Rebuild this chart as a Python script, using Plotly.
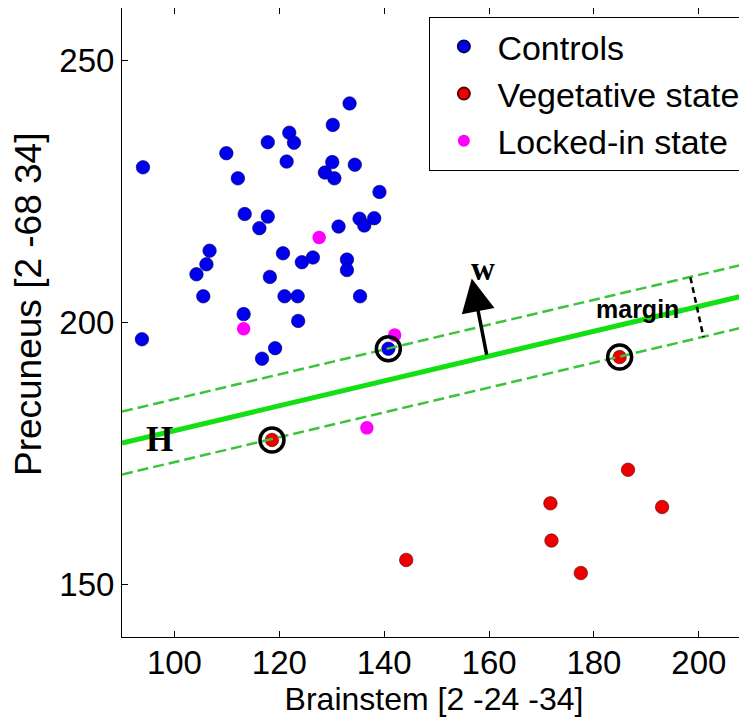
import plotly.graph_objects as go

# ---- data ----
controls_x = [133.4, 130.2, 121.9, 122.8, 117.8, 109.9, 94.0, 121.4, 130.1, 134.4,
              128.7, 130.5, 112.1, 139.1, 113.4, 117.8, 116.2, 135.3, 138.1, 136.2,
              131.3, 106.7, 106.1, 104.2, 120.7, 124.3, 126.4, 132.9, 132.9, 118.2,
              105.5, 121.0, 123.5, 135.4, 113.2, 123.6, 93.8, 119.2, 116.7, 140.8]
controls_y = [241.8, 237.7, 236.2, 234.3, 234.4, 232.3, 229.6, 230.7, 230.6, 230.1,
              228.6, 227.5, 227.5, 224.9, 220.7, 220.2, 218.0, 219.8, 219.9, 218.5,
              218.3, 213.7, 211.1, 209.2, 213.2, 211.5, 212.4, 212.0, 210.0, 208.7,
              205.0, 205.0, 205.0, 205.0, 201.6, 200.3, 196.8, 195.1, 193.1, 195.0]

veg_x = [118.6, 144.2, 184.9, 186.5, 171.7, 193.0, 171.9, 177.5]
veg_y = [177.6, 154.7, 193.4, 171.9, 165.5, 164.8, 158.4, 152.2]

lis_x = [127.6, 113.2, 142.0, 136.7]
lis_y = [216.2, 198.8, 197.6, 179.9]

sv_x = [140.8, 118.6, 184.9]
sv_y = [195.0, 177.6, 193.4]

line_x = [90, 209]
hyper_slope = 0.237
hyper_y_at_90 = 177.0
margin_half = 6.0

w_tail = (159.6, 193.6)
w_tip = (156.7, 208.4)
margin_bar_x = [198.4, 200.9]
margin_bar_y = [208.6, 197.2]

x_ticks = [100, 120, 140, 160, 180, 200]
y_ticks = [150, 200, 250]

# ---- derived lines ----
def hyper(x, off=0.0):
    return hyper_y_at_90 + hyper_slope * (x - 90) + off

h_y = [hyper(x) for x in line_x]
up_y = [hyper(x, margin_half) for x in line_x]
lo_y = [hyper(x, -margin_half) for x in line_x]

FONT = "Liberation Sans, Arial, sans-serif"
SERIF = "Liberation Serif, Times New Roman, serif"

fig = go.Figure()
fig.add_trace(go.Scatter(x=controls_x, y=controls_y, mode="markers", name="Controls",
                         marker=dict(color="#0000ee", size=13.5, line=dict(width=0.6, color="rgb(0,0,90)"))))
fig.add_trace(go.Scatter(x=veg_x, y=veg_y, mode="markers", name="Vegetative state",
                         marker=dict(color="#ee0000", size=13.5, line=dict(width=0.6, color="rgb(90,0,0)"))))
fig.add_trace(go.Scatter(x=lis_x, y=lis_y, mode="markers", name="Locked-in state",
                         marker=dict(color="#ff00ff", size=13.5, line=dict(width=0))))

fig.add_trace(go.Scatter(x=line_x, y=up_y, mode="lines", showlegend=False,
                         line=dict(color="rgb(60,195,60)", width=2.5, dash="11px,5px")))
fig.add_trace(go.Scatter(x=line_x, y=lo_y, mode="lines", showlegend=False,
                         line=dict(color="rgb(60,195,60)", width=2.5, dash="11px,5px")))
fig.add_trace(go.Scatter(x=line_x, y=h_y, mode="lines", showlegend=False,
                         line=dict(color="#13e013", width=5)))
fig.add_trace(go.Scatter(x=sv_x, y=sv_y, mode="markers", showlegend=False,
                         marker=dict(symbol="circle-open", size=24, color="black",
                                     line=dict(width=3.5, color="black"))))
fig.add_trace(go.Scatter(x=margin_bar_x, y=margin_bar_y, mode="lines", showlegend=False,
                         line=dict(color="black", width=2.5, dash="6px,4px")))

fig.add_annotation(x=w_tip[0], y=w_tip[1], ax=w_tail[0], ay=w_tail[1],
                   xref="x", yref="y", axref="x", ayref="y", text="",
                   showarrow=True, arrowhead=2, arrowsize=1.9, arrowwidth=3.5,
                   arrowcolor="black")
fig.add_annotation(x=158.8, y=210.3, text="<b>w</b>", showarrow=False,
                   font=dict(family=SERIF, size=33, color="black"))
fig.add_annotation(x=188.4, y=202.6, text="<b>margin</b>", showarrow=False,
                   font=dict(family=FONT, size=25, color="black"))
fig.add_annotation(x=97.2, y=177.6, text="<b>H</b>", showarrow=False,
                   font=dict(family=SERIF, size=35, color="black"))
# y-axis title (placed as in the reference, slightly above the axis centre)
fig.add_annotation(x=-0.151, y=0.529, xref="paper", yref="paper",
                   text="Precuneus [2 -68 34]", textangle=-90, showarrow=False,
                   xanchor="center", yanchor="middle",
                   font=dict(family=FONT, size=37, color="black"))

axis_common = dict(showgrid=False, zeroline=False, showline=True, linecolor="black",
                   linewidth=1, mirror="ticks", ticks="inside", ticklen=6,
                   tickcolor="black", tickfont=dict(family=FONT, size=33, color="black"))

fig.update_xaxes(range=[90, 209], tickvals=x_ticks, **axis_common,
                 ticklabelstandoff=-4,
                 title=dict(text="Brainstem [2 -24 -34]", standoff=0,
                            font=dict(family=FONT, size=32, color="black")))
fig.update_yaxes(range=[140, 260], tickvals=y_ticks, **axis_common)

fig.update_layout(
    width=739, height=711,
    margin=dict(l=114, r=1, t=0, b=82),
    plot_bgcolor="white", paper_bgcolor="white",
    legend=dict(x=0.999, y=0.986, xanchor="right", yanchor="top",
                bgcolor="white", bordercolor="black", borderwidth=1,
                font=dict(family=FONT, size=34, color="black"),
                itemsizing="constant", itemwidth=57, tracegroupgap=0),
)

fig.write_html("out.html")
